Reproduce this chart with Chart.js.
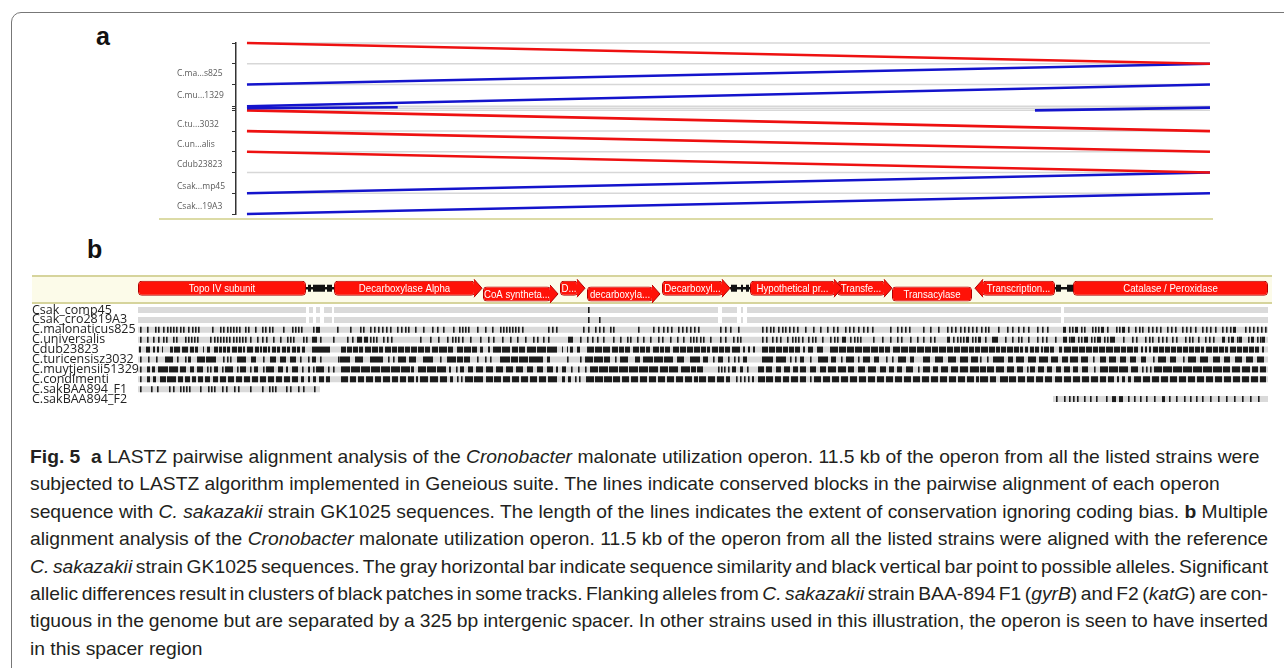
<!DOCTYPE html>
<html>
<head>
<meta charset="utf-8">
<script src="https://cdn.jsdelivr.net/npm/chart.js@4.4.1/dist/chart.umd.min.js"></script>
<style>
  body { margin: 0; background: #fff; width: 1284px; height: 668px; overflow: hidden; position: relative; }
  #frame { position: absolute; left: 11px; top: 12px; width: 1400px; height: 800px; border: 1px solid #777; border-radius: 10px; }
  .tag { position: absolute; font: bold 25px 'Liberation Sans', Arial, sans-serif; line-height: 1; color: #111; }
  #wrapA { position: absolute; left: 0; top: 0; }
  #wrapB { position: absolute; left: 0; top: 256px; }
  #baseA { position: absolute; left: 159px; top: 218px; width: 1054px; height: 2px; background: #dcdba6; }
  #caption { position: absolute; left: 30px; top: 443px; font-family: 'Liberation Sans', Arial, sans-serif;
             font-size: 19px; line-height: 27.4px; color: #231f20; white-space: nowrap; }
  #caption span { display: inline-block; transform-origin: 0 50%; }
</style>
</head>
<body>
<div id="frame"></div>
<div class="tag" style="left:96px;top:24px">a</div>
<div class="tag" style="left:87px;top:237px">b</div>
<div id="wrapA"><canvas id="chartA" width="1284" height="230"></canvas></div>
<div id="baseA"></div>
<div id="wrapB"><canvas id="chartB" width="1284" height="168"></canvas></div>
<div id="caption">
  <div><span><b>Fig. 5</b>&nbsp; <b>a</b> LASTZ pairwise alignment analysis of the <i>Cronobacter</i> malonate utilization operon. 11.5 kb of the operon from all the listed strains were</span></div>
  <div><span>subjected to LASTZ algorithm implemented in Geneious suite. The lines indicate conserved blocks in the pairwise alignment of each operon</span></div>
  <div><span id="refLine">sequence with <i>C. sakazakii</i> strain GK1025 sequences. The length of the lines indicates the extent of conservation ignoring coding bias. <b>b</b> Multiple</span></div>
  <div><span>alignment analysis of the <i>Cronobacter</i> malonate utilization operon. 11.5 kb of the operon from all the listed strains were aligned with the reference</span></div>
  <div><span><i>C. sakazakii</i> strain GK1025 sequences. The gray horizontal bar indicate sequence similarity and black vertical bar point to possible alleles. Significant</span></div>
  <div><span>allelic differences result in clusters of black patches in some tracks. Flanking alleles from <i>C. sakazakii</i> strain BAA-894 F1 (<i>gyrB</i>) and F2 (<i>katG</i>) are con-</span></div>
  <div><span>tiguous in the genome but are separated by a 325 bp intergenic spacer. In other strains used in this illustration, the operon is seen to have inserted</span></div>
  <div><span>in this spacer region</span></div>
</div>
<script>
// ---------- panel a: LASTZ pairwise alignment ----------
const aStrains = ['C.ma...s825', 'C.mu...1329', 'C.tu...3032', 'C.un...alis', 'Cdub23823', 'Csak...mp45', 'Csak...19A3'];
const aStrainRows = [1.49, 2.53, 3.94, 4.91, 5.88, 6.92, 7.89];
const aGuideRows = [0, 1, 2, 3.05, 3.15, 3.25, 4.25, 5.25, 6.25, 7.25];
const aTickRows = [0, 1, 2, 3.05, 3.15, 3.25, 4.25, 5.25, 6.25, 7.25, 8.25];
const operonKb = 11.5;
// conserved blocks: start / end on the operon (kb), row at each end, strand
const blockStartKb = [0, 0, 0, 0, 9.41, 0, 0, 0, 0, 0];
const blockEndKb = [11.5, 11.5, 11.5, 1.8, 11.5, 11.5, 11.5, 11.5, 11.5, 11.5];
const blockRowStart = [0, 2, 3.05, 3.15, 3.25, 3.25, 4.25, 5.25, 7.25, 8.25];
const blockRowEnd = [1, 1, 2, 3.1, 3.12, 4.25, 5.25, 6.25, 6.25, 7.25];
const blockStrand = ['+', '-', '-', '-', '-', '+', '+', '+', '-', '-'];

// ---------- panel b: multiple alignment (columns 0..1130) ----------
const trackNames = [':Csak_GK1025', 'Csak_comp45', 'Csak_cro2819A3', 'C.malonaticus825', 'C.universalis', 'Cdub23823',
  'C.turicensisz3032', 'C.muytjensii51329', 'C.condimenti', 'C.sakBAA894_F1', 'C.sakBAA894_F2'];
const trackRows = [-2.11, 0, 1, 2, 3, 4, 5, 6, 7, 8, 9];

const geneNames = ['Topo IV subunit', 'Decarboxylase Alpha', 'CoA syntheta...', 'D...', 'decarboxyla...', 'Decarboxyl...',
  'Hypothetical pr...', 'Transfe...', 'Transacylase', 'Transcription...', 'Catalase / Peroxidase'];
const geneStart = [0, 196, 345, 422, 449, 524, 612, 699, 754, 844, 935];
const geneEnd = [168, 337, 413, 440, 515, 585, 697, 747, 834, 917, 1130];
const geneStrand = [0, 1, 1, 1, 1, 1, 1, 1, 0, -1, 0];
const geneLane = [0, 0, 1, 0, 1, 0, 0, 0, 1, 0, 0];
const geneLaneRow = [-2.2, -1.62];
const refGapLine = [[168, 196], [592, 612], [917, 935]];
const refGapBlock = [[170, 173], [175, 187], [189, 194], [593, 599], [603, 605], [608, 611], [918, 923], [929, 935]];

const comp45Cover = [[0, 168], [171, 175], [178, 182], [186, 194], [196, 580], [584, 599], [603, 605], [609, 923], [926, 1130]];
const cro2819Cover = [[0, 168], [171, 175], [178, 182], [186, 194], [196, 580], [584, 599], [603, 605], [609, 923], [926, 1130]];
const malCover = [[0, 1130]];
const uniCover = [[0, 1130]];
const dubCover = [[0, 1130]];
const turCover = [[0, 1130]];
const muyCover = [[0, 1130]];
const conCover = [[0, 1130]];
const f1Cover = [[0, 182]];
const f2Cover = [[915, 1130]];

const comp45Marks = [450];
const cro2819Marks = [450, 461];
const malMarks = [2, 9, 17, 20, 25, 29, 32, 35, 38, 42, 45, 50, 54, 57, 60, 74, 82, 85, 89, 92, 95, 98, 101, 107, 110, 117, 124, 127,
  131, 134, 145, 154, 157, 160, 163, 175, [178, 182], 199, 212, 222, 225, 232, 236, 240, 244, 248, 252, 259, 263, 267, 270, 277,
  285, 294, 299, 305, 315, 321, 324, 327, 330, 339, 347, 354, 362, 365, 368, 371, 374, 377, 380, 384, 410, 414, 418, 445, 450,
  457, 461, 465, 472, 475, 500, 515, 520, 525, 529, 533, 540, 544, 548, 552, 556, 560, 582, 587, 592, 600, 624, 628, 632, 635,
  640, 644, 647, 651, 655, 659, 667, 675, 682, 689, 695, 699, 707, 711, 715, 720, 725, 729, 734, 752, 759, 763, 767, 771, 785,
  792, 800, 809, 813, 817, 822, 826, 830, 834, 838, 843, 847, 850, 860, 869, 874, 880, 885, 890, 899, 904, 909, [925, 928], 931,
  934, [937, 940], 943, 946, 954, 957, 960, [963, 966], 969, 978, 981, [984, 987], 990, 997, 1001, 1004, 1010, 1014, 1018, 1022,
  1029, 1033, 1037, 1044, 1048, 1052, 1057, 1064, 1068, 1072, 1077, 1084, 1088, 1092, [1095, 1098], 1107, 1111, 1115, 1119, 1123, 1127];
const uniMarks = [2, 9, 15, 20, 25, 28, 35, 38, 47, 50, 53, 56, 59, 72, 76, 79, 82, 85, 88, 91, 95, 98, 101, 104, 107, 112, 119, 124,
  128, 135, 142, 149, 152, 155, 165, 168, [174, 179], 182, 195, 209, 214, [219, 224], [226, 230], 232, 235, 238, 245, 249, 253,
  282, 292, 300, 309, 314, 317, 320, 324, 332, 342, 350, 355, 364, 372, 379, 387, 395, 399, 405, 410, [430, 435], 442, 449, 454,
  459, 465, 475, 482, 489, 492, 499, 505, 512, 520, 524, 532, 539, 545, 552, 555, 558, 562, 565, 572, 582, 587, 595, 599, 602,
  624, 628, 634, 638, 642, 649, 654, 657, 660, 664, 670, 674, 677, 684, 692, 696, 699, [704, 708], 712, 716, 719, 722, 735, 744,
  752, 759, 763, 772, 779, 785, 792, 796, [809, 812], 815, 819, 822, 825, [828, 831], 834, 837, [840, 843], 847, [854, 860], 867,
  874, 880, 883, 890, 899, 904, 908, 917, [925, 929], 931, [933, 937], 940, 943, [946, 950], 953, 956, [959, 963], 966, 969,
  [972, 977], 985, 994, 998, 1007, 1011, 1014, 1020, 1024, 1028, 1034, 1038, 1047, 1051, 1054, 1060, 1067, 1071, 1075,
  [1084, 1087], 1090, [1093, 1096], 1099, [1101, 1104], 1110, [1113, 1116], 1119, 1122, [1124, 1127]];
const dubMarks = [[1, 3], [8, 12], [15, 17], [19, 21], [24, 25], [32, 35], [36, 42], [44, 50], [52, 56], [57, 60], [65, 66], [69, 72],
  [76, 80], [81, 84], [85, 88], [89, 92], [94, 99], [100, 104], [105, 107], [109, 115], [117, 121], [122, 124], [125, 129],
  [130, 132], [134, 138], [139, 142], [144, 148], [149, 152], [154, 158], [159, 162], [164, 167], [174, 192], [203, 208],
  [209, 214], [215, 220], [221, 225], [227, 233], [234, 240], [241, 245], [247, 253], [254, 259], [260, 266], [267, 272],
  [273, 279], [280, 286], [287, 292], [294, 300], [301, 309], [310, 315], [319, 325], [326, 333], [334, 339], [342, 345],
  [350, 352], [355, 363], [364, 372], [374, 380], [381, 387], [389, 398], [399, 408], [409, 419], [424, 425], [429, 430],
  [432, 435], [439, 442], [449, 456], [457, 464], [465, 472], [474, 480], [481, 486], [487, 492], [495, 501], [502, 507],
  [508, 512], [515, 521], [522, 526], [527, 532], [535, 541], [542, 548], [549, 555], [556, 562], [563, 568], [569, 572],
  [574, 580], [581, 586], [587, 592], [594, 602], [605, 607], [610, 612], [615, 617], [624, 630], [631, 637], [638, 644],
  [645, 650], [651, 656], [657, 662], [665, 667], [670, 675], [679, 685], [692, 700], [701, 708], [709, 716], [717, 724],
  [725, 732], [733, 740], [741, 746], [747, 752], [755, 762], [763, 770], [771, 778], [779, 786], [787, 793], [794, 800],
  [801, 808], [809, 815], [816, 822], [823, 830], [831, 836], [837, 842], [843, 850], [851, 857], [858, 862], [863, 868],
  [869, 875], [876, 881], [882, 885], [887, 890], [892, 896], [897, 901], [903, 905], [906, 911], [912, 916], [921, 924],
  [926, 933], [934, 940], [941, 947], [948, 954], [955, 960], [961, 967], [968, 975], [976, 982], [983, 988], [989, 995],
  [996, 1000], [1003, 1005], [1007, 1009], [1011, 1013], [1015, 1020], [1021, 1026], [1027, 1032], [1033, 1038], [1039, 1044],
  [1045, 1050], [1051, 1056], [1057, 1062], [1063, 1066], [1068, 1074], [1075, 1080], [1081, 1086], [1087, 1090], [1092, 1098],
  [1099, 1104], [1105, 1110], [1111, 1116], [1117, 1121], [1124, 1126]];
const turMarks = [2, 10, 18, [27, 35], 39, 47, [50, 53], [59, 67], [68, 78], 85, 89, 92, [99, 108], [113, 118], 125, [132, 138],
  [142, 148], [152, 158], 162, 170, [174, 178], 182, 200, [202, 212], [217, 225], [232, 245], 250, 255, [260, 268], [271, 278],
  [285, 295], 302, [309, 318], [319, 325], [326, 332], 339, 347, 352, [362, 372], [373, 380], [381, 390], [391, 405], [409, 412],
  429, 442, [447, 455], [456, 465], [466, 472], 477, [482, 490], [497, 502], [505, 515], [516, 525], [526, 535], [539, 546],
  [552, 562], [565, 570], 575, [580, 585], 590, 596, 600, [605, 609], [624, 635], [638, 648], 652, 657, [662, 666], 672,
  [680, 690], [693, 698], 703, [708, 716], 720, [725, 732], [736, 741], 748, 754, [760, 768], [772, 776], [785, 792], [797, 805],
  [810, 818], [822, 830], [833, 840], 842, 849, [855, 866], [870, 875], [878, 886], [890, 898], [901, 910], [913, 920],
  [924, 930], [932, 940], [943, 950], 955, [962, 968], [971, 978], [982, 988], [992, 998], [1003, 1008], 1015, [1020, 1028],
  [1032, 1038], 1045, [1050, 1058], [1062, 1070], [1075, 1082], [1086, 1092], [1097, 1104], [1108, 1115], [1119, 1126]];
const muyMarks = [2, [9, 12], [14, 17], [20, 30], [31, 40], [42, 48], [52, 56], [59, 65], 69, 72, [76, 80], 84, [87, 95], 99,
  [102, 108], 112, [116, 120], 125, [128, 136], [140, 145], [148, 150], [154, 160], 164, [170, 172], 175, [178, 186], 190, 195,
  [203, 212], [213, 222], [223, 232], [233, 242], [243, 252], [253, 262], [263, 272], [273, 276], [280, 288], [289, 298],
  [299, 308], [311, 313], 318, [322, 326], [330, 335], [338, 345], [348, 355], [358, 365], [368, 375], [378, 385], [389, 395],
  [399, 405], [409, 415], [418, 420], [424, 428], 433, 440, 447, [452, 460], [461, 470], [471, 480], [481, 490], [491, 500],
  [501, 510], [511, 520], [522, 530], [531, 540], [543, 552], [553, 558], [559, 565], 580, 583, 586, 590, [594, 598], [602, 605],
  609, [620, 626], [628, 634], [638, 643], [646, 652], [655, 660], [662, 668], [672, 678], [682, 688], [690, 698], [700, 708],
  [710, 716], [720, 727], [730, 738], [742, 748], [751, 756], [759, 764], [768, 775], 780, [785, 792], [795, 800], [803, 810],
  [813, 820], [822, 830], [832, 841], [842, 848], [849, 856], [858, 866], [869, 876], [879, 885], 889, [892, 897], [900, 906],
  [909, 914], [918, 923], [926, 932], [935, 940], [944, 950], 956, [962, 970], [971, 980], [981, 990], [993, 1000], 1004, 1008,
  1012, [1016, 1024], [1025, 1034], [1035, 1044], [1045, 1054], [1055, 1064], [1065, 1074], [1075, 1084], [1085, 1092],
  [1094, 1102], [1104, 1112], [1114, 1120], [1122, 1128]];
const conMarks = [2, [9, 12], [15, 18], [22, 28], [29, 38], [40, 45], [47, 52], [54, 58], [60, 65], [67, 72], [75, 80], [82, 88],
  [90, 96], [98, 104], [106, 112], [114, 120], [122, 128], [130, 136], [138, 144], [146, 152], [154, 160], [163, 166], [170, 172],
  [175, 178], [181, 186], [188, 192], [203, 210], [212, 218], [220, 226], [228, 235], [237, 243], [245, 252], [254, 260],
  [262, 268], [270, 276], [278, 280], [282, 290], [292, 300], [302, 309], [312, 315], 319, 323, [327, 335], [336, 345],
  [348, 355], [356, 363], [365, 372], [374, 381], [383, 390], [392, 399], [401, 408], [410, 419], [424, 427], [430, 433], 437,
  441, [448, 456], [457, 465], [466, 474], [475, 482], [484, 491], [493, 500], [502, 509], [511, 518], [520, 527], [529, 536],
  [538, 545], [547, 554], [556, 560], [561, 568], [570, 577], [579, 586], [588, 592], 598, 602, 606, 610, [614, 616], [620, 627],
  [628, 635], [637, 643], [645, 651], [653, 660], [662, 668], 672, [676, 683], [685, 692], [694, 701], [703, 710], [712, 719],
  [721, 728], [730, 737], [739, 746], [748, 755], [757, 764], [766, 773], [775, 782], [784, 791], [793, 800], [802, 809],
  [811, 818], [820, 827], [829, 836], [838, 841], [842, 850], [852, 858], [862, 870], [871, 878], [880, 887], [889, 896],
  [898, 905], [907, 914], [917, 924], [926, 933], [935, 942], [944, 951], [953, 960], [962, 968], [970, 976], [979, 981],
  [984, 987], [990, 993], [996, 1003], [1005, 1012], [1014, 1021], [1023, 1030], [1032, 1039], [1041, 1048], [1050, 1057],
  [1059, 1066], [1068, 1075], [1077, 1084], [1086, 1093], [1095, 1102], [1104, 1111], [1113, 1120], [1122, 1128]];
const f1Marks = [2, 13, 19, 31, 35, 42, 45, 48, 51, 62, 70, 73, 76, 84, 88, 96, 100, 112, 124, 131, 134, 137, 148, 152, 160, 165, 176];
const f2Marks = [918, 926, 931, 935, 939, 946, 952, 958, 968, [974, 978], [981, 985], 990, 996, 1002, 1008, 1016, [1024, 1027],
  1031, 1038, 1046, 1052, 1058, 1064, 1072, 1080, 1088, 1096, 1104, 1112, 1120];

const coverByTrack = [comp45Cover, cro2819Cover, malCover, uniCover, dubCover, turCover, muyCover, conCover, f1Cover, f2Cover];
const marksByTrack = [comp45Marks, cro2819Marks, malMarks, uniMarks, dubMarks, turMarks, muyMarks, conMarks, f1Marks, f2Marks];

const RED = '#ee1111';
const BLUE = '#1414cc';
const GENE_RED = '#ff1208';

document.addEventListener('DOMContentLoaded', function () {
    fitCaption();
    drawPanelA();
    drawPanelB();
});

function fitCaption() {
    // one horizontal squeeze for the whole caption (condensed face), lines 3-7 justified
    const spans = Array.from(document.querySelectorAll('#caption span'));
    const right = 1268, left = 30;
    const k = (right - left) / document.getElementById('refLine').getBoundingClientRect().width;
    spans.forEach((sp, i) => {
        sp.style.transform = 'scaleX(' + k.toFixed(4) + ')';
        if (i >= 2 && i <= 6) {
            const natural = sp.getBoundingClientRect().width / k;
            const gaps = (sp.textContent.match(/ /g) || []).length;
            sp.style.wordSpacing = (((right - left) / k - natural) / gaps).toFixed(3) + 'px';
        }
    });
}

function drawPanelA() {
    const guides = aGuideRows.map(r => ({
        data: [{ x: 0, y: r }, { x: operonKb, y: r }],
        borderColor: '#d7d7d7',
        borderWidth: 1.5,
        order: 2
    }));
    const blocks = blockStrand.map((s, i) => ({
        data: [{ x: blockStartKb[i], y: blockRowStart[i] }, { x: blockEndKb[i], y: blockRowEnd[i] }],
        borderColor: s === '+' ? RED : BLUE,
        borderWidth: 2.6,
        order: 1
    }));
    new Chart(document.getElementById('chartA'), {
        type: 'line',
        data: { datasets: guides.concat(blocks) },
        options: {
            responsive: false,
            devicePixelRatio: 1,
            animation: false,
            events: [],
            layout: { padding: { left: 177, right: 71, top: 43, bottom: 16 } },
            elements: { point: { radius: 0 }, line: { tension: 0, borderCapStyle: 'butt' } },
            datasets: { line: { clip: false } },
            plugins: { legend: { display: false }, tooltip: { enabled: false } },
            scales: {
                x: { type: 'linear', min: -0.131, max: 11.536, display: false },
                y: {
                    type: 'linear', position: 'left', reverse: true, min: 0, max: 8.25, weight: 1,
                    afterBuildTicks: s => { s.ticks = aStrainRows.map(v => ({ value: v })); },
                    afterFit: s => { s.width = 52; },
                    ticks: {
                        callback: (v, i) => aStrains[i],
                        font: { family: 'Open Sans', size: 8.5 },
                        color: '#5a5a5a', crossAlign: 'far', padding: 0, autoSkip: false
                    },
                    grid: { display: false },
                    border: { display: false }
                },
                yTicks: {
                    type: 'linear', position: 'left', reverse: true, min: 0, max: 8.25, weight: 0,
                    afterBuildTicks: s => { s.ticks = aTickRows.map(v => ({ value: v })); },
                    afterFit: s => { s.width = 7; },
                    ticks: { display: false },
                    grid: { drawOnChartArea: false, tickLength: 4, color: '#333', tickColor: '#333', tickWidth: 1 },
                    border: { display: true, color: '#333', width: 1.5 }
                }
            }
        }
    });
}

// arrow tips and white labels on the reference annotations
const geneDecor = {
    id: 'geneDecor',
    afterDatasetsDraw(chart) {
        const meta = chart.getDatasetMeta(0);
        const ctx = chart.ctx;
        ctx.save();
        meta.data.forEach((bar, i) => {
            const p = bar.getProps(['x', 'y', 'base', 'height'], true);
            const left = Math.min(p.x, p.base), right = Math.max(p.x, p.base);
            const half = p.height / 2 + 1.5;
            if (geneStrand[i] !== 0) {
                const back = geneStrand[i] > 0 ? right - 1 : left + 1;
                const tip = geneStrand[i] > 0 ? right + 7 : left - 7;
                ctx.beginPath();
                ctx.moveTo(back, p.y - half);
                ctx.lineTo(tip, p.y);
                ctx.lineTo(back, p.y + half);
                ctx.fillStyle = GENE_RED;
                ctx.fill();
                ctx.strokeStyle = '#b00000';
                ctx.lineWidth = 1;
                ctx.stroke();
            }
            ctx.save();
            ctx.beginPath();
            ctx.rect(left, p.y - p.height / 2, right - left, p.height);
            ctx.clip();
            ctx.translate((left + right) / 2, p.y + 0.5);
            ctx.scale(0.84, 1);
            ctx.fillStyle = '#fff';
            ctx.font = "11.5px 'Liberation Sans', Arial, sans-serif";
            ctx.textAlign = 'center';
            ctx.textBaseline = 'middle';
            ctx.fillText(geneNames[i], 0, 0);
            ctx.restore();
        });
        ctx.restore();
    }
};

function drawPanelB() {
    const geneData = geneNames.map((n, i) => ({ x: [geneStart[i], geneEnd[i]], y: geneLaneRow[geneLane[i]] }));
    const gapLineData = refGapLine.map(r => ({ x: r, y: geneLaneRow[0] }));
    const gapBlockData = refGapBlock.map(r => ({ x: r, y: geneLaneRow[0] }));
    const coverData = [];
    const markData = [];
    coverByTrack.forEach((runs, t) => runs.forEach(r => coverData.push({ x: r, y: trackRows[t + 1] })));
    marksByTrack.forEach((marks, t) => marks.forEach(m => {
        markData.push({ x: Array.isArray(m) ? m : [m, m + 1.6], y: trackRows[t + 1] });
    }));

    const chartB = new Chart(document.getElementById('chartB'), {
        type: 'bar',
        data: {
            datasets: [
                {   // reference annotations
                    data: geneData, backgroundColor: GENE_RED, borderColor: '#b00000', borderWidth: 1,
                    borderRadius: 4, borderSkipped: false, barThickness: 15, order: 0
                },
                { data: gapBlockData, backgroundColor: '#111', barThickness: 7, order: 1 },
                { data: gapLineData, backgroundColor: '#111', barThickness: 2.5, order: 2 },
                { data: markData, backgroundColor: '#1c1c1c', barThickness: 6, order: 3 },
                { data: coverData, backgroundColor: '#dadada', barThickness: 6, order: 4 },
                {   // reference track band
                    data: [{ x: [-106, 1134], y: -2.06 }], backgroundColor: '#fcfbe9', borderColor: '#d6d49c',
                    borderWidth: { top: 2, bottom: 2, left: 0, right: 0 }, borderSkipped: false,
                    barThickness: 29, clip: false, order: 5
                }
            ]
        },
        options: {
            indexAxis: 'y',
            responsive: false,
            devicePixelRatio: 1,
            animation: false,
            events: [],
            layout: { padding: { left: 32, right: 16, top: 12, bottom: 12 } },
            datasets: { bar: { grouped: false, inflateAmount: 0, clip: false } },
            plugins: { legend: { display: false }, tooltip: { enabled: false } },
            scales: {
                x: { type: 'linear', min: 0, max: 1130, display: false },
                y: {
                    type: 'linear', reverse: true, min: -3.58, max: 9.64, z: 1,
                    afterBuildTicks: s => { s.ticks = trackRows.map(v => ({ value: v })); },
                    afterFit: s => { s.width = 106; },
                    ticks: {
                        callback: (v, i) => trackNames[i],
                        font: { family: 'Open Sans', size: 12.5 },
                        color: '#222', crossAlign: 'far', padding: 0, autoSkip: false
                    },
                    grid: { display: false },
                    border: { display: false }
                }
            }
        },
        plugins: [geneDecor]
    });

    // pin the first and last track rows to their places in the canvas (51px and 149px)
    const area = chartB.chartArea;
    const first = trackRows[1], last = trackRows[trackRows.length - 1];
    const k = (149 - 51) / (last - first);
    chartB.options.scales.y.min = first - (51 - area.top) / k;
    chartB.options.scales.y.max = last + (area.bottom - 149) / k;
    chartB.update();
}
</script>
</body>
</html>
